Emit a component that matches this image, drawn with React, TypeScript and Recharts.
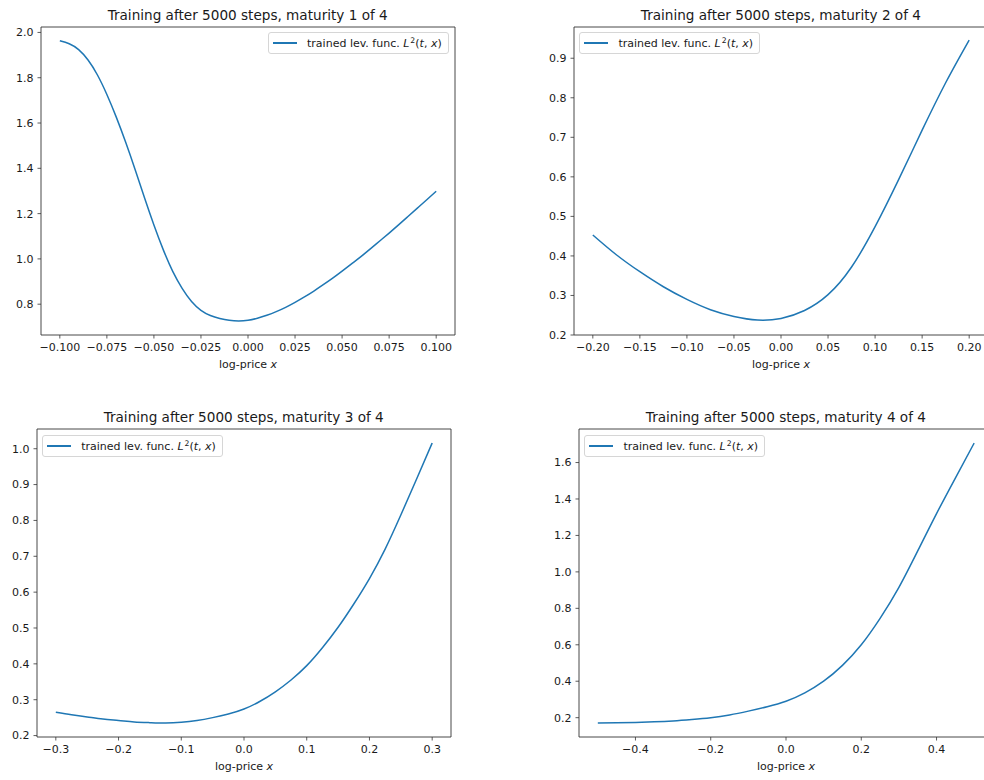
import React from "react"
import { LineChart, Line, XAxis, YAxis, ReferenceArea, Label } from "recharts"

// maturity 1
const x1 = [
  -0.1, -0.095, -0.09, -0.085, -0.08, -0.075, -0.07, -0.065, -0.06, -0.055, -0.05, -0.045, -0.04, -0.035,
  -0.03, -0.025, -0.02, -0.015, -0.01, -0.005, 0, 0.005, 0.01, 0.015, 0.02, 0.025, 0.03, 0.035, 0.04, 0.045,
  0.05, 0.055, 0.06, 0.065, 0.07, 0.075, 0.08, 0.085, 0.09, 0.095, 0.1,
]
const lev1 = [
  1.963, 1.95, 1.924, 1.878, 1.812, 1.726, 1.626, 1.515, 1.395, 1.27, 1.15, 1.04, 0.945, 0.87, 0.812, 0.773,
  0.75, 0.737, 0.729, 0.726, 0.729, 0.738, 0.751, 0.767, 0.786, 0.808, 0.832, 0.858, 0.886, 0.915, 0.946,
  0.978, 1.01, 1.044, 1.079, 1.114, 1.15, 1.187, 1.224, 1.261, 1.299,
]

// maturity 2
const x2 = [-0.2, -0.175, -0.15, -0.125, -0.1, -0.075, -0.05, -0.025, 0, 0.025, 0.05, 0.075, 0.1, 0.125, 0.15, 0.175, 0.2]
const lev2 = [0.453, 0.403, 0.36, 0.322, 0.29, 0.264, 0.247, 0.238, 0.242, 0.262, 0.302, 0.372, 0.474, 0.593, 0.718, 0.838, 0.946]

// maturity 3
const x3 = [
  -0.3, -0.275, -0.25, -0.225, -0.2, -0.175, -0.15, -0.125, -0.1, -0.075, -0.05, -0.025, 0, 0.025, 0.05,
  0.075, 0.1, 0.125, 0.15, 0.175, 0.2, 0.225, 0.25, 0.275, 0.3,
]
const lev3 = [
  0.265, 0.258, 0.252, 0.246, 0.242, 0.238, 0.236, 0.235, 0.237, 0.242, 0.25, 0.26, 0.274, 0.295, 0.322,
  0.355, 0.395, 0.445, 0.502, 0.567, 0.638, 0.72, 0.815, 0.915, 1.016,
]

// maturity 4
const x4 = [-0.5, -0.45, -0.4, -0.35, -0.3, -0.25, -0.2, -0.15, -0.1, -0.05, 0, 0.05, 0.1, 0.15, 0.2, 0.25, 0.3, 0.35, 0.4, 0.45, 0.5]
const lev4 = [0.171, 0.172, 0.174, 0.177, 0.182, 0.19, 0.2, 0.215, 0.236, 0.26, 0.29, 0.336, 0.4, 0.487, 0.6, 0.745, 0.915, 1.115, 1.32, 1.515, 1.707]

const xTicks1 = [-0.1, -0.075, -0.05, -0.025, 0, 0.025, 0.05, 0.075, 0.1]
const yTicks1 = [0.8, 1.0, 1.2, 1.4, 1.6, 1.8, 2.0]
const xTicks2 = [-0.2, -0.15, -0.1, -0.05, 0, 0.05, 0.1, 0.15, 0.2]
const yTicks2 = [0.2, 0.3, 0.4, 0.5, 0.6, 0.7, 0.8, 0.9]
const xTicks3 = [-0.3, -0.2, -0.1, 0, 0.1, 0.2, 0.3]
const yTicks3 = [0.2, 0.3, 0.4, 0.5, 0.6, 0.7, 0.8, 0.9, 1.0]
const xTicks4 = [-0.4, -0.2, 0, 0.2, 0.4]
const yTicks4 = [0.2, 0.4, 0.6, 0.8, 1.0, 1.2, 1.4, 1.6]

const FONT = "'DejaVu Sans', sans-serif"
const BLUE = "#1f77b4"
const SPINE = "#333"
const TEXT = "#1a1a1a"
const FS = 11
const PLOT_W = 414
const PLOT_H = 308
const PAD_L = 60
const PAD_T = 30
const PAD_R = 10
const PAD_B = 45

const fmt = (digits: number) => (v: number) => v.toFixed(digits).replace("-", "\u2212")

function XLabel(props: any) {
  const { x, y, width } = props.viewBox
  return (
    <text x={x + width / 2} y={y + 33} textAnchor="middle" fontSize={FS} fontFamily={FONT} fill={TEXT}>
      log-price <tspan fontStyle="italic">x</tspan>
    </text>
  )
}

function LegendBox({ side }: { side: "left" | "right" }) {
  const pos = side === "right" ? { right: PAD_R + 6 } : { left: PAD_L + 5.5 }
  return (
    <div
      style={{
        position: "absolute",
        top: PAD_T + 5.6,
        ...pos,
        height: 20,
        display: "flex",
        alignItems: "center",
        padding: "0 6px 0 4px",
        border: "1px solid #d6d6d6",
        borderRadius: 3,
        background: "rgba(255,255,255,0.8)",
        fontFamily: FONT,
        fontSize: FS,
        color: TEXT,
        whiteSpace: "nowrap",
      }}
    >
      <span style={{ display: "inline-block", width: 24, height: 2, background: BLUE, marginRight: 10 }} />
      <span>
        trained lev. func. <i>L</i>
        <sup style={{ fontSize: "0.7em", verticalAlign: "0.55em", marginLeft: 1 }}>2</sup>(<i>t</i>, <i>x</i>)
      </span>
    </div>
  )
}

type PanelProps = {
  title: string
  xs: number[]
  ys: number[]
  xDomain: [number, number]
  yDomain: [number, number]
  xTicks: number[]
  yTicks: number[]
  xDigits: number
  yDigits: number
  plotLeft: number
  plotTop: number
  legendSide: "left" | "right"
}

function Panel(p: PanelProps) {
  const data = p.xs.map((x, i) => ({ x, lev: p.ys[i] }))
  const tickStyle = { fill: TEXT, fontSize: FS, fontFamily: FONT }
  return (
    <div
      style={{
        position: "absolute",
        left: p.plotLeft - PAD_L,
        top: p.plotTop - PAD_T,
        width: PAD_L + PLOT_W + PAD_R,
        height: PAD_T + PLOT_H + PAD_B,
      }}
    >
      <div
        style={{
          position: "absolute",
          left: PAD_L - 20,
          width: PLOT_W + 40,
          top: PAD_T - 20,
          textAlign: "center",
          fontFamily: FONT,
          fontSize: 13.6,
          lineHeight: "16px",
          color: TEXT,
          whiteSpace: "nowrap",
        }}
      >
        {p.title}
      </div>
      <LineChart
        width={PAD_L + PLOT_W + PAD_R}
        height={PAD_T + PLOT_H + PAD_B}
        data={data}
        margin={{ top: PAD_T, right: PAD_R, bottom: 0, left: 0 }}
      >
        <XAxis
          dataKey="x"
          type="number"
          domain={p.xDomain}
          ticks={p.xTicks}
          interval={0}
          allowDataOverflow
          height={PAD_B}
          axisLine={false}
          tickLine={{ stroke: SPINE, strokeWidth: 0.8 }}
          tickSize={3.5}
          tickMargin={4.5}
          tick={tickStyle}
          tickFormatter={fmt(p.xDigits)}
        >
          <Label content={XLabel} />
        </XAxis>
        <YAxis
          type="number"
          domain={p.yDomain}
          ticks={p.yTicks}
          interval={0}
          allowDataOverflow
          width={PAD_L}
          axisLine={false}
          tickLine={{ stroke: SPINE, strokeWidth: 0.8 }}
          tickSize={3.5}
          tickMargin={4}
          tick={tickStyle}
          tickFormatter={fmt(p.yDigits)}
        />
        <ReferenceArea
          x1={p.xDomain[0]}
          x2={p.xDomain[1]}
          y1={p.yDomain[0]}
          y2={p.yDomain[1]}
          fill="none"
          stroke={SPINE}
          strokeWidth={0.9}
          ifOverflow="visible"
        />
        <Line
          type="natural"
          dataKey="lev"
          stroke={BLUE}
          strokeWidth={1.5}
          dot={false}
          activeDot={false}
          isAnimationActive={false}
        />
      </LineChart>
      <LegendBox side={p.legendSide} />
    </div>
  )
}

export default function App() {
  return (
    <div style={{ position: "absolute", left: 0, top: 0, width: 984, height: 780, overflow: "hidden", background: "#fff" }}>
      <Panel
        title="Training after 5000 steps, maturity 1 of 4"
        xs={x1}
        ys={lev1}
        xDomain={[-0.11, 0.11]}
        yDomain={[0.664, 2.024]}
        xTicks={xTicks1}
        yTicks={yTicks1}
        xDigits={3}
        yDigits={1}
        plotLeft={40.7}
        plotTop={26.7}
        legendSide="right"
      />
      <Panel
        title="Training after 5000 steps, maturity 2 of 4"
        xs={x2}
        ys={lev2}
        xDomain={[-0.22, 0.22]}
        yDomain={[0.2, 0.979]}
        xTicks={xTicks2}
        yTicks={yTicks2}
        xDigits={2}
        yDigits={1}
        plotLeft={573.9}
        plotTop={26.7}
        legendSide="left"
      />
      <Panel
        title="Training after 5000 steps, maturity 3 of 4"
        xs={x3}
        ys={lev3}
        xDomain={[-0.33, 0.33]}
        yDomain={[0.196, 1.055]}
        xTicks={xTicks3}
        yTicks={yTicks3}
        xDigits={1}
        yDigits={1}
        plotLeft={36.7}
        plotTop={429.3}
        legendSide="left"
      />
      <Panel
        title="Training after 5000 steps, maturity 4 of 4"
        xs={x4}
        ys={lev4}
        xDomain={[-0.55, 0.55]}
        yDomain={[0.094, 1.784]}
        xTicks={xTicks4}
        yTicks={yTicks4}
        xDigits={1}
        yDigits={1}
        plotLeft={578.9}
        plotTop={429.3}
        legendSide="left"
      />
    </div>
  )
}
